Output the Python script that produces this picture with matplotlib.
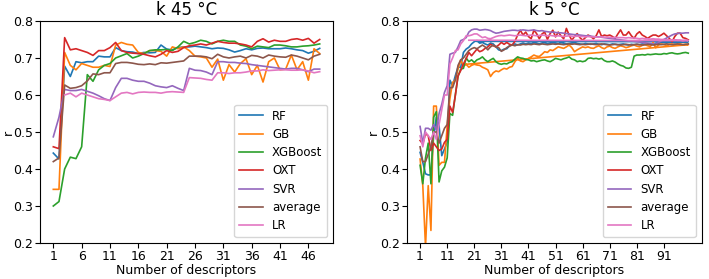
import numpy as np
from matplotlib import pyplot as plt

models = ["RF", "GB", "XGBoost", "OXT", "SVR", "average", "LR"]

# k 45 °C, descriptors 1..48
n45 = np.arange(1, 49)
rf45 = [0.443, 0.427, 0.678, 0.650, 0.690, 0.687, 0.690, 0.690, 0.705, 0.703,
        0.703, 0.728, 0.720, 0.717, 0.716, 0.712, 0.715, 0.714, 0.715, 0.735,
        0.724, 0.722, 0.728, 0.730, 0.730, 0.732, 0.730, 0.728, 0.725, 0.727,
        0.726, 0.722, 0.716, 0.720, 0.725, 0.722, 0.726, 0.727, 0.725, 0.725,
        0.725, 0.727, 0.725, 0.722, 0.720, 0.713, 0.718, 0.726]
gb45 = [0.345, 0.345, 0.715, 0.680, 0.668, 0.685, 0.680, 0.675, 0.675, 0.680,
        0.677, 0.735, 0.742, 0.737, 0.735, 0.715, 0.712, 0.720, 0.720, 0.718,
        0.705, 0.730, 0.725, 0.730, 0.720, 0.705, 0.703, 0.700, 0.675, 0.697,
        0.640, 0.682, 0.662, 0.685, 0.698, 0.655, 0.680, 0.635, 0.690, 0.700,
        0.668, 0.670, 0.708, 0.668, 0.690, 0.640, 0.725, 0.712]
xgb45 = [0.300, 0.312, 0.400, 0.432, 0.428, 0.460, 0.655, 0.637, 0.668, 0.680,
         0.685, 0.700, 0.706, 0.712, 0.700, 0.705, 0.712, 0.720, 0.722, 0.722,
         0.723, 0.720, 0.730, 0.745, 0.738, 0.742, 0.748, 0.745, 0.738, 0.745,
         0.748, 0.745, 0.745, 0.735, 0.732, 0.725, 0.732, 0.730, 0.728, 0.735,
         0.735, 0.733, 0.730, 0.730, 0.732, 0.733, 0.735, 0.738]
oxt45 = [0.460, 0.455, 0.755, 0.722, 0.725, 0.720, 0.715, 0.707, 0.720, 0.720,
         0.728, 0.742, 0.720, 0.715, 0.713, 0.712, 0.710, 0.706, 0.703, 0.710,
         0.720, 0.715, 0.718, 0.728, 0.733, 0.735, 0.738, 0.735, 0.740, 0.745,
         0.742, 0.740, 0.740, 0.738, 0.735, 0.730, 0.745, 0.752, 0.743, 0.748,
         0.745, 0.745, 0.750, 0.752, 0.748, 0.753, 0.740, 0.750]
svr45 = [0.487, 0.540, 0.615, 0.612, 0.612, 0.615, 0.610, 0.605, 0.598, 0.590,
         0.585, 0.620, 0.645, 0.645, 0.640, 0.637, 0.637, 0.632, 0.625, 0.622,
         0.620, 0.625, 0.618, 0.612, 0.672, 0.667, 0.666, 0.662, 0.655, 0.690,
         0.690, 0.688, 0.688, 0.686, 0.685, 0.682, 0.680, 0.678, 0.676, 0.674,
         0.672, 0.670, 0.672, 0.672, 0.668, 0.663, 0.670, 0.670]
avg45 = [0.420, 0.430, 0.627, 0.618, 0.620, 0.625, 0.638, 0.657, 0.655, 0.660,
         0.660, 0.685, 0.688, 0.688, 0.686, 0.683, 0.682, 0.684, 0.682, 0.687,
         0.686, 0.688, 0.690, 0.692, 0.705, 0.705, 0.705, 0.703, 0.698, 0.710,
         0.703, 0.700, 0.703, 0.705, 0.700, 0.707, 0.705, 0.700, 0.708, 0.705,
         0.703, 0.702, 0.708, 0.705, 0.700, 0.695, 0.705, 0.710]
lr45 = [np.nan, np.nan, 0.600, 0.605, 0.595, 0.605, 0.600, 0.595, 0.590, 0.588,
        0.585, 0.595, 0.605, 0.607, 0.603, 0.607, 0.608, 0.607, 0.607, 0.605,
        0.608, 0.609, 0.608, 0.607, 0.647, 0.646, 0.645, 0.642, 0.640, 0.660,
        0.660, 0.658, 0.660, 0.660, 0.662, 0.665, 0.665, 0.668, 0.666, 0.667,
        0.668, 0.668, 0.667, 0.667, 0.668, 0.665, 0.660, 0.663]

# k 5 °C, descriptors 1..100 (some runs end with one point back at a low count)
n5 = np.arange(1, 101)
rf5 = [0.445, 0.418, 0.387, 0.384, 0.384, 0.490, 0.540, 0.517, 0.436, 0.454,
       0.472, 0.640, 0.625, 0.652, 0.675, 0.675, 0.715, 0.724, 0.729, 0.738,
       0.744, 0.747, 0.740, 0.742, 0.738, 0.735, 0.740, 0.738, 0.730, 0.722,
       0.720, 0.724, 0.725, 0.733, 0.736, 0.738, 0.735, 0.738, 0.740, 0.738,
       0.740, 0.739, 0.741, 0.740, 0.738, 0.740, 0.741, 0.739, 0.740, 0.741,
       0.740, 0.739, 0.741, 0.740, 0.738, 0.739, 0.740, 0.741, 0.739, 0.738,
       0.737, 0.739, 0.738, 0.737, 0.738, 0.739, 0.737, 0.736, 0.738, 0.737,
       0.736, 0.738, 0.737, 0.736, 0.737, 0.738, 0.736, 0.735, 0.737, 0.736,
       0.737, 0.736, 0.738, 0.737, 0.736, 0.737, 0.738, 0.739, 0.740, 0.741,
       0.742, 0.741, 0.743, 0.742, 0.741, 0.742, 0.743, 0.744, 0.743, 0.744]
gb5 = [0.427, 0.355, 0.190, 0.355, 0.234, 0.570, 0.570, 0.410, 0.418, 0.418,
       0.517, 0.590, 0.634, 0.640, 0.670, 0.695, 0.678, 0.683, 0.675, 0.680,
       0.683, 0.681, 0.680, 0.675, 0.672, 0.668, 0.650, 0.660, 0.665, 0.663,
       0.668, 0.672, 0.670, 0.675, 0.677, 0.690, 0.699, 0.692, 0.690, 0.695,
       0.699, 0.703, 0.708, 0.705, 0.704, 0.710, 0.717, 0.715, 0.722, 0.720,
       0.725, 0.730, 0.728, 0.726, 0.730, 0.735, 0.728, 0.717, 0.722, 0.726,
       0.730, 0.728, 0.730, 0.727, 0.726, 0.730, 0.733, 0.728, 0.725, 0.730,
       0.732, 0.728, 0.726, 0.730, 0.733, 0.731, 0.728, 0.730, 0.733, 0.735,
       0.732, 0.730, 0.734, 0.736, 0.733, 0.731, 0.742, 0.728, 0.735, 0.738,
       0.736, 0.734, 0.737, 0.738, 0.735, 0.737, 0.738, 0.736, 0.737, 0.736]
xgb5 = [0.410, 0.360, 0.430, 0.470, 0.360, 0.540, 0.555, 0.365, 0.395, 0.405,
        0.430, 0.550, 0.545, 0.600, 0.650, 0.670, 0.672, 0.700, 0.690, 0.695,
        0.688, 0.695, 0.698, 0.703, 0.695, 0.690, 0.695, 0.699, 0.690, 0.685,
        0.683, 0.685, 0.684, 0.688, 0.690, 0.697, 0.703, 0.700, 0.699, 0.696,
        0.695, 0.692, 0.693, 0.690, 0.692, 0.694, 0.695, 0.692, 0.690, 0.694,
        0.699, 0.697, 0.695, 0.698, 0.700, 0.703, 0.697, 0.695, 0.690, 0.692,
        0.690, 0.692, 0.699, 0.700, 0.698, 0.699, 0.697, 0.699, 0.693, 0.690,
        0.690, 0.692, 0.689, 0.684, 0.680, 0.678, 0.673, 0.672, 0.675, 0.705,
        0.708, 0.708, 0.709, 0.708, 0.710, 0.709, 0.710, 0.711, 0.710, 0.710,
        0.712, 0.711, 0.713, 0.714, 0.712, 0.711, 0.712, 0.714, 0.715, 0.713]
oxt5 = [0.477, 0.468, 0.495, 0.490, 0.450, 0.470, 0.460, 0.450, 0.454, 0.472,
        0.480, 0.570, 0.553, 0.598, 0.652, 0.666, 0.684, 0.698, 0.715, 0.706,
        0.715, 0.724, 0.717, 0.720, 0.726, 0.730, 0.737, 0.733, 0.730, 0.735,
        0.742, 0.737, 0.742, 0.737, 0.735, 0.745, 0.762, 0.775, 0.762, 0.770,
        0.758, 0.752, 0.775, 0.766, 0.752, 0.765, 0.770, 0.750, 0.766, 0.775,
        0.757, 0.770, 0.760, 0.752, 0.780, 0.762, 0.748, 0.758, 0.766, 0.755,
        0.748, 0.755, 0.762, 0.758, 0.752, 0.760, 0.776, 0.758, 0.762, 0.760,
        0.762, 0.758, 0.753, 0.765, 0.776, 0.762, 0.762, 0.771, 0.760, 0.753,
        0.765, 0.771, 0.762, 0.758, 0.753, 0.758, 0.762, 0.762, 0.758, 0.762,
        0.767, 0.760, 0.753, 0.744, 0.758, 0.767, 0.767, 0.755, 0.753, 0.749]
svr5 = [0.515, 0.470, 0.510, 0.510, 0.505, 0.520, 0.505, 0.550, 0.575, 0.607,
        0.625, 0.710, 0.713, 0.715, 0.730, 0.747, 0.750, 0.755, 0.770, 0.776,
        0.778, 0.778, 0.775, 0.776, 0.777, 0.776, 0.774, 0.770, 0.767, 0.768,
        0.770, 0.772, 0.773, 0.774, 0.775, 0.775, 0.774, 0.775, 0.776, 0.775,
        0.774, 0.775, 0.776, 0.774, 0.773, 0.774, 0.772, 0.771, 0.770, 0.770,
        0.769, 0.768, 0.768, 0.767, 0.766, 0.765, 0.764, 0.763, 0.763, 0.762,
        0.761, 0.760, 0.760, 0.759, 0.758, 0.757, 0.757, 0.756, 0.755, 0.754,
        0.753, 0.752, 0.751, 0.750, 0.749, 0.748, 0.747, 0.746, 0.746, 0.745,
        0.744, 0.743, 0.742, 0.741, 0.740, 0.739, 0.738, 0.737, 0.742, 0.746,
        0.750, 0.754, 0.758, 0.762, 0.765, 0.766, 0.767, 0.767, 0.768, 0.768]
avg5 = [0.460, 0.420, 0.420, 0.440, 0.460, 0.500, 0.500, 0.470, 0.490, 0.510,
        0.520, 0.620, 0.620, 0.640, 0.680, 0.695, 0.700, 0.710, 0.720, 0.725,
        0.728, 0.725, 0.730, 0.735, 0.730, 0.722, 0.730, 0.735, 0.730, 0.728,
        0.718, 0.722, 0.728, 0.732, 0.735, 0.733, 0.736, 0.735, 0.737, 0.736,
        0.737, 0.736, 0.738, 0.737, 0.736, 0.738, 0.737, 0.736, 0.737, 0.738,
        0.737, 0.738, 0.737, 0.736, 0.737, 0.738, 0.737, 0.738, 0.737, 0.736,
        0.737, 0.736, 0.737, 0.738, 0.737, 0.736, 0.737, 0.738, 0.737, 0.736,
        0.735, 0.736, 0.737, 0.736, 0.735, 0.736, 0.737, 0.736, 0.735, 0.736,
        0.737, 0.736, 0.735, 0.736, 0.737, 0.736, 0.735, 0.736, 0.737, 0.736,
        0.737, 0.738, 0.737, 0.736, 0.737, 0.738, 0.737, 0.736, 0.737, 0.738]
lr5 = [0.490, 0.460, 0.500, 0.490, 0.480, 0.500, 0.480, 0.520, 0.560, 0.600,
       0.600, 0.684, 0.700, 0.720, 0.722, 0.738, 0.747, 0.760, 0.760, 0.762,
       0.765, 0.765, 0.760, 0.755, 0.757, 0.753, 0.752, 0.755, 0.758, 0.760,
       0.761, 0.760, 0.761, 0.762, 0.761, 0.760, 0.761, 0.762, 0.761, 0.760,
       0.761, 0.762, 0.761, 0.760, 0.761, 0.762, 0.761, 0.760, 0.761, 0.760,
       0.759, 0.760, 0.759, 0.758, 0.759, 0.760, 0.759, 0.758, 0.759, 0.758,
       0.758, 0.757, 0.758, 0.757, 0.757, 0.757, 0.756, 0.757, 0.756, 0.756,
       0.756, 0.755, 0.756, 0.755, 0.755, 0.755, 0.754, 0.755, 0.754, 0.754,
       0.753, 0.752, 0.753, 0.752, 0.752, 0.751, 0.752, 0.751, 0.751, 0.750,
       0.750, 0.749, 0.749, 0.748, 0.749, 0.748, 0.748, 0.747, 0.748, 0.747]
# last point of some k 5 °C runs: (descriptor count, r)
tail5 = {"RF": (22, 0.745), "GB": (18, 0.683), "LR": (19, 0.748)}

series45 = [rf45, gb45, xgb45, oxt45, svr45, avg45, lr45]
series5 = [rf5, gb5, xgb5, oxt5, svr5, avg5, lr5]

fig = plt.figure(figsize=(7.09, 2.79), dpi=100)
ax1 = fig.add_axes([0.0564, 0.129, 0.4133, 0.7958])
ax2 = fig.add_axes([0.5736, 0.129, 0.4161, 0.7958])

for name, y in zip(models, series45):
    ax1.plot(n45, y, lw=1.2, label=name)

for name, y in zip(models, series5):
    x = list(n5)
    y = list(y)
    if name in tail5:
        x.append(tail5[name][0])
        y.append(tail5[name][1])
    ax2.plot(x, y, lw=1.2, label=name)

for ax, title, ticks, rx in [(ax1, "k 45 °C", np.arange(1, 47, 5), -0.087),
                             (ax2, "k 5 °C", np.arange(1, 92, 10), -0.0905)]:
    ax.set_ylim(0.2, 0.8)
    ax.set_xticks(ticks)
    ax.set_title(title, fontsize=12, pad=4)
    ax.set_xlabel("Number of descriptors", fontsize=9, labelpad=1)
    ax.set_ylabel("r", fontsize=9)
    ax.yaxis.set_label_coords(rx, 0.5)
    ax.tick_params(labelsize=9, length=3.5, pad=1.5)
    ax.legend(loc="lower right", fontsize=8.5, handlelength=2.0,
              labelspacing=0.45, borderpad=0.4)

plt.savefig("out.png", dpi=100)
